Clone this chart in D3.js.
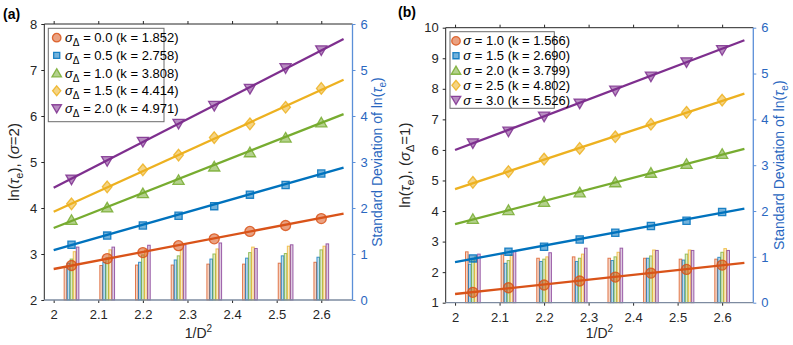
<!DOCTYPE html>
<html><head><meta charset="utf-8">
<script src="https://cdn.jsdelivr.net/npm/d3@7"></script>
<style>
body{margin:0;background:#fff}
svg{display:block}
text{font-family:"Liberation Sans",Arial,Helvetica,sans-serif}
</style>
</head><body>
<svg id="c" width="793" height="345"></svg>
<script>
// ---------- shared data ----------
const xPoints = [2.04, 2.12, 2.20, 2.28, 2.36, 2.44, 2.52, 2.60];
const xTicks = [2, 2.1, 2.2, 2.3, 2.4, 2.5, 2.6];
const fitRange = [2.0, 2.65];
const seriesColors = ["#D95319", "#0072BD", "#77AC30", "#EDB120", "#7E2F8E"];
const seriesMarkers = ["circle", "square", "triUp", "diamond", "triDown"];

// ---------- panel (a) ----------
const aSigmaLabels = ["0.0", "0.5", "1.0", "1.5", "2.0"];
const aSlopes = ["1.852", "2.758", "3.808", "4.414", "4.971"];
const aIntercepts = [-1.03, -2.43, -4.05, -4.91, -5.50];
const aMeans = [
  [2.75, 2.90, 3.03, 3.18, 3.33, 3.49, 3.62, 3.77],
  [3.20, 3.40, 3.62, 3.83, 4.04, 4.29, 4.50, 4.75],
  [3.74, 4.01, 4.32, 4.61, 4.90, 5.21, 5.53, 5.86],
  [4.09, 4.46, 4.83, 5.15, 5.53, 5.83, 6.19, 6.60],
  [4.62, 5.02, 5.44, 5.83, 6.22, 6.59, 7.04, 7.43]
];
const aStd = [
  [0.72, 0.75, 0.76, 0.76, 0.78, 0.78, 0.80, 0.82],
  [0.80, 0.82, 0.82, 0.87, 0.89, 0.91, 0.96, 0.93],
  [0.89, 0.92, 0.98, 0.96, 1.00, 1.03, 1.01, 1.09],
  [1.05, 1.09, 1.09, 1.09, 1.11, 1.15, 1.17, 1.17],
  [1.15, 1.15, 1.19, 1.20, 1.24, 1.12, 1.20, 1.22]
];
const aLeftTicks = [2, 3, 4, 5, 6, 7, 8];
const aRightTicks = [0, 1, 2, 3, 4, 5, 6];

// ---------- panel (b) ----------
const bSigmaLabels = ["1.0", "1.5", "2.0", "2.5", "3.0"];
const bSlopes = ["1.566", "2.690", "3.799", "4.802", "5.526"];
const bIntercepts = [-1.847, -3.05, -4.03, -4.884, -5.055];
const bMeans = [
  [1.34, 1.49, 1.58, 1.71, 1.84, 1.97, 2.09, 2.23],
  [2.45, 2.67, 2.83, 3.07, 3.29, 3.51, 3.68, 3.97],
  [3.74, 4.03, 4.30, 4.61, 4.94, 5.25, 5.54, 5.87],
  [4.94, 5.29, 5.70, 6.05, 6.43, 6.84, 7.23, 7.63],
  [6.22, 6.60, 7.09, 7.52, 7.94, 8.40, 8.87, 9.27]
];
const bStd = [
  [1.11, 1.06, 0.97, 1.00, 0.97, 0.97, 0.95, 0.95],
  [0.84, 0.86, 0.90, 0.90, 0.92, 0.97, 0.93, 0.99],
  [0.95, 0.92, 0.95, 0.97, 1.00, 1.02, 1.06, 1.10],
  [1.00, 1.04, 1.00, 1.06, 1.10, 1.15, 1.15, 1.18],
  [1.06, 1.13, 1.09, 1.19, 1.19, 1.14, 1.14, 1.14]
];
const bLeftTicks = [1, 2, 3, 4, 5, 6, 7, 8, 9, 10];
const bRightTicks = [0, 1, 2, 3, 4, 5, 6];

// ---------- drawing ----------
const svg = d3.select("#c");
const AX = "#262626", BLUE_TXT = "#2a67c0", BLUE_AX = "#5b8fd8", BOT_AX = "#7d8ba0";

function markerPath(type, s) {
  const r = 5 * s;
  switch (type) {
    case "circle": return `M${-r},0a${r},${r} 0 1,0 ${2*r},0a${r},${r} 0 1,0 ${-2*r},0Z`;
    case "square": { const h = 3.6 * s; return `M${-h},${-h}H${h}V${h}H${-h}Z`; }
    case "triUp": { const w = 5.6 * s, h = 5.2 * s; return `M0,${-h}L${w},${h*0.85}L${-w},${h*0.85}Z`; }
    case "triDown": { const w = 5.6 * s, h = 5.2 * s; return `M0,${h}L${w},${-h*0.85}L${-w},${-h*0.85}Z`; }
    case "diamond": { const w = 4.8 * s, h = 5.8 * s; return `M0,${-h}L${w},0L0,${h}L${-w},0Z`; }
  }
}

function drawPanel(cfg) {
  const g = svg.append("g");
  const x = d3.scaleLinear().domain([1.979, 2.670]).range([cfg.x0, cfg.x1]);
  const yL = d3.scaleLinear().domain(cfg.leftDomain).range([cfg.yB, cfg.yT]);
  const yR = d3.scaleLinear().domain([0, 6]).range([cfg.yB, cfg.yT]);

  // bars (std on right axis)
  const barStep = 0.0068, barW = 0.0058;
  cfg.std.forEach((vals, i) => {
    g.append("g").selectAll("rect").data(vals).join("rect")
      .attr("x", (d, j) => x(xPoints[j] + (i - 2) * barStep - barW / 2))
      .attr("width", x(2 + barW) - x(2))
      .attr("y", d => yR(d))
      .attr("height", d => yR(0) - yR(d))
      .attr("fill", seriesColors[i]).attr("fill-opacity", 0.25)
      .attr("stroke", seriesColors[i]).attr("stroke-opacity", 0.75).attr("stroke-width", 1);
  });

  // fit lines
  cfg.intercepts.forEach((b, i) => {
    const k = +cfg.slopes[i];
    g.append("line")
      .attr("x1", x(fitRange[0])).attr("y1", yL(b + k * fitRange[0]))
      .attr("x2", x(fitRange[1])).attr("y2", yL(b + k * fitRange[1]))
      .attr("stroke", seriesColors[i]).attr("stroke-width", 2.3);
  });

  // markers
  cfg.means.forEach((vals, i) => {
    g.append("g").selectAll("path").data(vals).join("path")
      .attr("transform", (d, j) => `translate(${x(xPoints[j])},${yL(d)})`)
      .attr("d", markerPath(seriesMarkers[i], 1))
      .attr("fill", seriesColors[i]).attr("fill-opacity", 0.55)
      .attr("stroke", seriesColors[i]).attr("stroke-opacity", 0.85).attr("stroke-width", 1.3);
  });

  // axes
  const fmt = d => String(d);
  const axB = g.append("g").attr("transform", `translate(0,${cfg.yB})`)
    .call(d3.axisBottom(x).tickValues(xTicks).tickSize(3).tickSizeOuter(0).tickPadding(7).tickFormat(fmt));
  const axT = g.append("g").attr("transform", `translate(0,${cfg.yT})`)
    .call(d3.axisTop(x).tickValues(xTicks).tickSize(3).tickSizeOuter(0).tickFormat(""));
  const axL = g.append("g").attr("transform", `translate(${cfg.x0},0)`)
    .call(d3.axisLeft(yL).tickValues(cfg.leftTicks).tickSize(3).tickSizeOuter(0).tickPadding(4).tickFormat(fmt));
  const axR = g.append("g").attr("transform", `translate(${cfg.x1},0)`)
    .call(d3.axisRight(yR).tickValues(cfg.rightTicks).tickSize(3).tickSizeOuter(0).tickPadding(5).tickFormat(fmt));
  [axB, axT, axL, axR].forEach(a => { a.select(".domain").remove(); a.selectAll("text").attr("font-size", 13).attr("font-family", null); });
  [axB, axT, axL].forEach(a => { a.selectAll("line").attr("stroke", AX); a.selectAll("text").attr("fill", AX); });
  axR.selectAll("line").attr("stroke", BLUE_AX);
  axR.selectAll("text").attr("fill", BLUE_TXT);

  // frame
  g.append("line").attr("x1", cfg.x0).attr("x2", cfg.x1).attr("y1", cfg.yT).attr("y2", cfg.yT).attr("stroke", AX);
  g.append("line").attr("x1", cfg.x0).attr("x2", cfg.x0).attr("y1", cfg.yT).attr("y2", cfg.yB).attr("stroke", AX);
  g.append("line").attr("x1", cfg.x1).attr("x2", cfg.x1).attr("y1", cfg.yT).attr("y2", cfg.yB).attr("stroke", BLUE_AX).attr("stroke-width", 1.3);
  g.append("line").attr("x1", cfg.x0).attr("x2", cfg.x1).attr("y1", cfg.yB).attr("y2", cfg.yB).attr("stroke", BOT_AX).attr("stroke-width", 1.3);

  // x label
  const xl = g.append("text").attr("x", (cfg.x0 + cfg.x1) / 2).attr("y", 338)
    .attr("text-anchor", "middle").attr("font-size", 14).attr("fill", AX);
  xl.append("tspan").text("1/D");
  xl.append("tspan").attr("font-size", 10).attr("dy", -6).text("2");

  // left y label
  const yl = g.append("text").attr("transform", `translate(${cfg.yLabelX},${(cfg.yT + cfg.yB) / 2}) rotate(-90)`)
    .attr("text-anchor", "middle").attr("font-size", 15).attr("fill", AX);
  yl.append("tspan").text("ln(");
  yl.append("tspan").attr("font-style", "italic").text("τ");
  yl.append("tspan").attr("font-size", 11).attr("dy", 4).text("e");
  yl.append("tspan").attr("dy", -4).text("), (");
  yl.append("tspan").attr("font-style", "italic").text("σ");
  if (cfg.ySubDelta) {
    yl.append("tspan").attr("font-size", 11).attr("dy", 4).text("Δ");
    yl.append("tspan").attr("dy", -4).text(cfg.yLabelEnd);
  } else {
    yl.append("tspan").text(cfg.yLabelEnd);
  }

  // right y label
  const yr = g.append("text").attr("transform", `translate(${cfg.yRLabelX},${(cfg.yT + cfg.yB) / 2}) rotate(-90)`)
    .attr("text-anchor", "middle").attr("font-size", 14).attr("fill", BLUE_TXT);
  yr.append("tspan").text("Standard Deviation of ln(");
  yr.append("tspan").attr("font-style", "italic").text("τ");
  yr.append("tspan").attr("font-size", 10).attr("dy", 4).text("e");
  yr.append("tspan").attr("dy", -4).text(")");

  // panel label
  g.append("text").attr("x", cfg.tagX).attr("y", cfg.tagY).attr("font-size", 14)
    .attr("font-weight", "bold").attr("fill", "#000").text(cfg.tag);

  // legend
  const lg = g.append("g");
  lg.append("rect").attr("x", cfg.leg.x).attr("y", cfg.leg.y).attr("width", cfg.leg.w).attr("height", cfg.leg.h)
    .attr("fill", "#fff").attr("stroke", "#6b6b6b").attr("stroke-width", 1);
  cfg.sigmaLabels.forEach((lab, i) => {
    const cy = cfg.leg.y + cfg.leg.first + i * cfg.leg.step;
    lg.append("path").attr("transform", `translate(${cfg.leg.x + cfg.leg.mx},${cy})`)
      .attr("d", markerPath(seriesMarkers[i], 0.85))
      .attr("fill", seriesColors[i]).attr("fill-opacity", 0.55)
      .attr("stroke", seriesColors[i]).attr("stroke-opacity", 0.85).attr("stroke-width", 1.3);
    const t = lg.append("text").attr("x", cfg.leg.x + cfg.leg.tx).attr("y", cy + 4.5)
      .attr("font-size", 13).attr("fill", "#000");
    t.append("tspan").attr("font-style", "italic").text("σ");
    if (cfg.legDelta) {
      t.append("tspan").attr("font-size", 10).attr("dy", 4).text("Δ");
      t.append("tspan").attr("dy", -4).text(` = ${lab} (k = ${cfg.slopes[i]})`);
    } else {
      t.append("tspan").text(` = ${lab} (k = ${cfg.slopes[i]})`);
    }
  });
}

drawPanel({
  x0: 44.3, x1: 352.5, yT: 24, yB: 300,
  leftDomain: [2, 8], leftTicks: aLeftTicks, rightTicks: aRightTicks,
  means: aMeans, std: aStd, slopes: aSlopes, intercepts: aIntercepts,
  sigmaLabels: aSigmaLabels, legDelta: true,
  yLabelX: 19, yLabelEnd: "=2)", ySubDelta: false, yRLabelX: 382,
  tag: "(a)", tagX: 3, tagY: 19,
  leg: { x: 48.3, y: 28.3, w: 115.7, h: 93.4, first: 9.4, step: 17.7, mx: 8.4, tx: 16.7 }
});
drawPanel({
  x0: 445.7, x1: 753.3, yT: 27.7, yB: 302.7,
  leftDomain: [1, 10], leftTicks: bLeftTicks, rightTicks: bRightTicks,
  means: bMeans, std: bStd, slopes: bSlopes, intercepts: bIntercepts,
  sigmaLabels: bSigmaLabels, legDelta: false,
  yLabelX: 410, yLabelEnd: "=1)", ySubDelta: true, yRLabelX: 784,
  tag: "(b)", tagX: 398, tagY: 17,
  leg: { x: 450, y: 31.7, w: 104.3, h: 76.6, first: 9.2, step: 14.8, mx: 6, tx: 13.3 }
});
</script>
</body></html>
